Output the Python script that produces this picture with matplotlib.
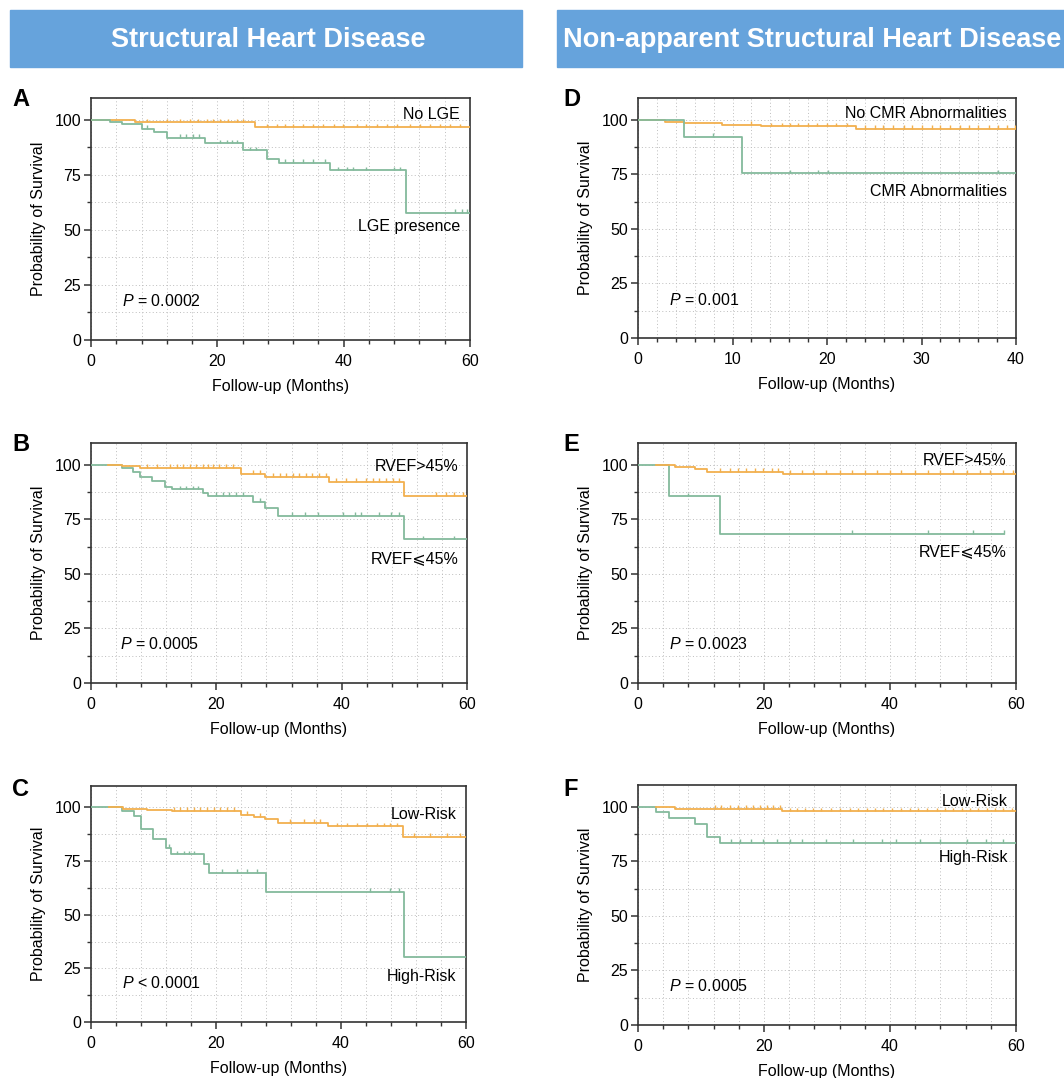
import matplotlib
matplotlib.use("Agg")
import matplotlib.pyplot as plt
from matplotlib.patches import Rectangle
from matplotlib.ticker import MultipleLocator
import numpy as np

plt.rcParams['font.family'] = ['Liberation Sans', 'DejaVu Sans']
plt.rcParams['mathtext.fontset'] = 'custom'
plt.rcParams['mathtext.it'] = 'Liberation Sans:italic'
plt.rcParams['mathtext.rm'] = 'Liberation Sans'

ORANGE = '#F2B04E'
GREEN = '#84BA9C'
DARK = '#333333'

# ---- data (KM steps: event times, survival % after each event, censor times) ----
# A: LGE
a_neg_t = [7.0, 26.0]
a_neg_s = [98.9, 96.8]
a_neg_c = [8.8, 12.0, 14.1, 15.6, 17.0, 18.3, 19.3, 20.4, 21.7, 23.1, 24.1,
           27.8, 29.4, 30.7, 32.0, 33.6, 35.2, 36.8, 38.4, 39.9, 42.1, 43.6,
           45.2, 46.8, 48.4, 50.5, 52.1, 53.7, 55.2, 56.8, 58.4]
a_pos_t = [3.0, 4.9, 8.0, 9.9, 12.0, 18.0, 24.0, 27.9, 29.8, 37.8, 49.8]
a_pos_s = [99.2, 98.0, 95.9, 94.4, 92.0, 89.5, 86.2, 82.3, 80.5, 77.1, 57.9]
a_pos_c = [8.8, 14.1, 15.1, 16.2, 17.1, 20.4, 21.5, 22.3, 23.1, 25.2, 26.2,
           30.7, 32.0, 33.6, 35.2, 37.0, 39.1, 40.5, 41.5, 43.6, 47.9, 48.9,
           57.6, 58.7, 59.5]

# B: RVEF (structural)
b_hi_t = [2.7, 4.9, 7.8, 23.9, 27.8, 38.0, 50.0]
b_hi_s = [100.0, 99.5, 98.6, 96.0, 94.6, 92.2, 85.8]
b_hi_c = [8.9, 10.5, 12.6, 13.7, 14.7, 15.8, 16.8, 17.9, 18.7, 19.5, 20.5,
          21.6, 22.7, 25.9, 26.9, 29.0, 30.1, 31.1, 32.2, 33.2, 34.3, 35.3,
          36.4, 37.5, 39.1, 40.7, 42.3, 43.9, 45.0, 46.0, 47.1, 48.2, 49.2,
          55.1, 56.7, 58.0, 59.3]
b_lo_t = [4.9, 6.7, 7.8, 9.7, 11.8, 12.9, 17.9, 18.7, 25.9, 27.8, 29.8, 50.0]
b_lo_s = [98.5, 96.6, 94.6, 92.5, 90.0, 88.8, 87.3, 85.9, 83.1, 80.1, 76.7, 66.0]
b_lo_c = [14.2, 15.2, 16.3, 17.1, 20.0, 21.1, 22.1, 23.2, 24.3, 26.9, 32.0,
          34.1, 36.2, 40.2, 42.1, 43.1, 46.0, 47.9, 49.1, 52.9, 58.0]

# C: risk score (structural)
c_low_t = [2.9, 5.1, 8.9, 12.9, 24.0, 26.0, 27.9, 29.9, 37.9, 49.9]
c_low_s = [100.0, 99.2, 98.8, 98.4, 96.7, 95.6, 94.4, 92.9, 91.2, 86.4]
c_low_c = [13.2, 14.3, 15.3, 16.4, 17.5, 18.5, 19.6, 20.7, 21.7, 22.8, 24.9,
           27.1, 31.9, 34.0, 35.6, 36.7, 39.3, 40.9, 42.5, 44.1, 45.7, 46.8,
           47.9, 48.9, 51.6, 54.3, 57.0, 59.1]
c_high_t = [4.9, 6.9, 8.0, 9.9, 12.0, 12.8, 18.0, 18.9, 28.0, 50.0]
c_high_s = [98.4, 96.0, 89.8, 85.3, 81.3, 78.3, 73.8, 69.5, 60.8, 30.2]
c_high_c = [12.4, 13.7, 14.8, 15.6, 16.4, 20.9, 23.3, 24.9, 26.5, 44.7,
            47.9, 49.2]

# D: CMR abnormalities (non-apparent)
d_neg_t = [2.9, 4.9, 6.0, 8.9, 13.0, 23.1]
d_neg_s = [99.1, 98.5, 98.4, 97.8, 97.1, 96.0]
d_neg_c = [12.0, 14.1, 15.2, 16.1, 16.9, 18.0, 18.9, 20.0, 21.0, 22.1, 24.0,
           25.1, 25.9, 27.0, 28.1, 29.0, 30.0, 31.1, 32.0, 33.0, 34.1, 35.0,
           36.0, 37.1, 38.1, 39.0, 39.9]
d_pos_t = [4.9, 11.0]
d_pos_s = [92.2, 75.4]
d_pos_c = [7.9, 16.1, 19.1, 20.1, 38.1]

# E: RVEF (non-apparent)
e_hi_t = [2.9, 5.8, 9.0, 11.0, 23.0]
e_hi_s = [100.0, 99.1, 98.0, 96.8, 95.9]
e_hi_c = [13.0, 14.6, 15.9, 17.2, 18.5, 19.9, 21.2, 22.2, 24.1, 26.0, 27.8,
          29.9, 32.0, 33.9, 36.0, 37.9, 40.0, 41.8, 44.0, 46.1, 47.9, 50.0,
          52.2, 54.3, 55.9, 58.0, 59.6]
e_lo_t = [4.9, 13.0]
e_lo_s = [85.6, 68.5]
e_lo_c = [7.9, 34.0, 46.1, 53.1, 58.1]

# F: risk score (non-apparent)
f_low_t = [2.9, 5.8, 22.9]
f_low_s = [100.0, 99.2, 98.0]
f_low_c = [12.2, 13.2, 14.6, 15.9, 17.2, 18.3, 19.3, 20.4, 21.4, 22.5, 24.1,
           25.2, 26.5, 27.8, 29.1, 30.7, 32.0, 33.6, 34.9, 36.3, 37.6, 38.9,
           40.3, 41.8, 43.2, 44.5, 45.8, 47.4, 48.7, 50.0, 51.4, 52.7, 54.0,
           55.4, 56.7, 58.0, 59.3]
f_high_t = [2.9, 4.9, 9.0, 11.0, 13.0]
f_high_s = [97.4, 94.7, 92.0, 86.3, 83.6]
f_high_c = [14.8, 16.2, 18.0, 19.9, 22.0, 24.1, 26.0, 29.9, 34.2, 38.7,
            41.0, 44.8, 48.0, 52.2, 55.3, 58.0]


def km(ax, t, s, c, end, color, start=0.0):
    xs = [start] + list(t) + [end]
    ys = [100.0] + list(s) + [s[-1]]
    ax.step(xs, ys, where='post', color=color, lw=1.3, zorder=3)
    # censor ticks
    idx = np.searchsorted(t, c, side='right') - 1
    yc = np.where(idx >= 0, np.array(s)[np.clip(idx, 0, None)], 100.0)
    ax.vlines(c, yc, yc + 1.6, color=color, lw=1.0, zorder=3)


W, H = 1064, 1078
fig = plt.figure(figsize=(W / 100, H / 100), dpi=100)


def px_axes(l, r, top, bot):
    return fig.add_axes([l / W, 1 - bot / H, (r - l) / W, (bot - top) / H])


def style(ax, xmax, xmaj):
    ax.set_xlim(0, xmax)
    ax.set_ylim(0, 110)
    ax.xaxis.set_major_locator(MultipleLocator(xmaj))
    ax.xaxis.set_minor_locator(MultipleLocator(xmaj / 5))
    ax.yaxis.set_major_locator(MultipleLocator(25))
    ax.yaxis.set_minor_locator(MultipleLocator(12.5))
    ax.grid(which='both', linestyle=(0, (1, 2.5)), color='#BDBDBD', lw=0.7)
    ax.set_axisbelow(True)
    for sp in ax.spines.values():
        sp.set_color(DARK)
        sp.set_linewidth(1.2)
    ax.tick_params(which='major', length=5, width=1.1, color=DARK,
                   labelsize=11.5)
    ax.tick_params(axis='x', which='major', pad=5)
    ax.tick_params(axis='y', which='major', pad=2)
    ax.tick_params(which='minor', length=3, width=1.0, color=DARK)
    ax.set_xlabel('Follow-up (Months)', fontsize=11.5, labelpad=7)
    ax.set_ylabel('Probability of Survival', fontsize=11.5, labelpad=6)


# header bars
fig.patches.append(Rectangle((10 / W, 1 - 67 / H), 512 / W, 57 / H,
                             transform=fig.transFigure, color='#66A3DC', zorder=0))
fig.patches.append(Rectangle((557 / W, 1 - 67 / H), 507 / W, 57 / H,
                             transform=fig.transFigure, color='#66A3DC', zorder=0))
fig.text(268 / W, 1 - 40 / H, 'Structural Heart Disease', color='white',
         fontsize=19.5, fontweight='bold', ha='center', va='center')
fig.text(812 / W, 1 - 40 / H, 'Non-apparent Structural Heart Disease', color='white',
         fontsize=19.5, fontweight='bold', ha='center', va='center')

# panels
axA = px_axes(91, 470, 98, 340)
axD = px_axes(638, 1016, 98, 338)
axB = px_axes(91, 467, 443, 683)
axE = px_axes(638, 1016, 443, 683)
axC = px_axes(91, 466, 786, 1022)
axF = px_axes(638, 1016, 785, 1025)

style(axA, 60, 20)
km(axA, a_neg_t, a_neg_s, a_neg_c, 60, ORANGE)
km(axA, a_pos_t, a_pos_s, a_pos_c, 60, GREEN)
axA.text(58.4, 102.3, 'No LGE', ha='right', va='center', fontsize=11.5)
axA.text(58.4, 51.8, 'LGE presence', ha='right', va='center', fontsize=11.5)
axA.text(4.9, 17.9, r'$P$ = 0.0002', ha='left', va='center', fontsize=11.5)

style(axD, 40, 10)
km(axD, d_neg_t, d_neg_s, d_neg_c, 40, ORANGE)
km(axD, d_pos_t, d_pos_s, d_pos_c, 40, GREEN)
axD.text(39.0, 102.8, 'No CMR Abnormalities', ha='right', va='center', fontsize=11.5)
axD.text(39.0, 67.3, 'CMR Abnormalities', ha='right', va='center', fontsize=11.5)
axD.text(3.3, 17.6, r'$P$ = 0.001', ha='left', va='center', fontsize=11.5)

style(axB, 60, 20)
km(axB, b_lo_t, b_lo_s, b_lo_c, 60, GREEN)
km(axB, b_hi_t, b_hi_s, b_hi_c, 60, ORANGE, start=2.7)
axB.text(58.7, 99.2, 'RVEF>45%', ha='right', va='center', fontsize=11.5)
axB.text(58.7, 57.1, 'RVEF\u2a7d45%', ha='right', va='center', fontsize=11.5)
axB.text(4.7, 17.8, r'$P$ = 0.0005', ha='left', va='center', fontsize=11.5)

style(axE, 60, 20)
km(axE, e_lo_t, e_lo_s, e_lo_c, 58.1, GREEN)
km(axE, e_hi_t, e_hi_s, e_hi_c, 60, ORANGE, start=2.9)
axE.text(58.5, 101.8, 'RVEF>45%', ha='right', va='center', fontsize=11.5)
axE.text(58.5, 60.1, 'RVEF\u2a7d45%', ha='right', va='center', fontsize=11.5)
axE.text(4.9, 18.1, r'$P$ = 0.0023', ha='left', va='center', fontsize=11.5)

style(axC, 60, 20)
km(axC, c_high_t, c_high_s, c_high_c, 60, GREEN)
km(axC, c_low_t, c_low_s, c_low_c, 60, ORANGE, start=2.9)
axC.text(58.5, 96.7, 'Low-Risk', ha='right', va='center', fontsize=11.5)
axC.text(58.5, 21.3, 'High-Risk', ha='right', va='center', fontsize=11.5)
axC.text(5.0, 18.0, r'$P$ < 0.0001', ha='left', va='center', fontsize=11.5)

style(axF, 60, 20)
km(axF, f_high_t, f_high_s, f_high_c, 60, GREEN)
km(axF, f_low_t, f_low_s, f_low_c, 60, ORANGE, start=2.9)
axF.text(58.7, 102.6, 'Low-Risk', ha='right', va='center', fontsize=11.5)
axF.text(58.7, 76.6, 'High-Risk', ha='right', va='center', fontsize=11.5)
axF.text(4.9, 17.9, r'$P$ = 0.0005', ha='left', va='center', fontsize=11.5)

# panel letters
for lab, x, y in [('A', 12, 100), ('B', 12, 445), ('C', 12, 790),
                  ('D', 563, 100), ('E', 563, 445), ('F', 563, 790)]:
    fig.text(x / W, 1 - y / H, lab, fontsize=17, fontweight='bold',
             ha='left', va='center')

fig.savefig('out.png', dpi=100)
